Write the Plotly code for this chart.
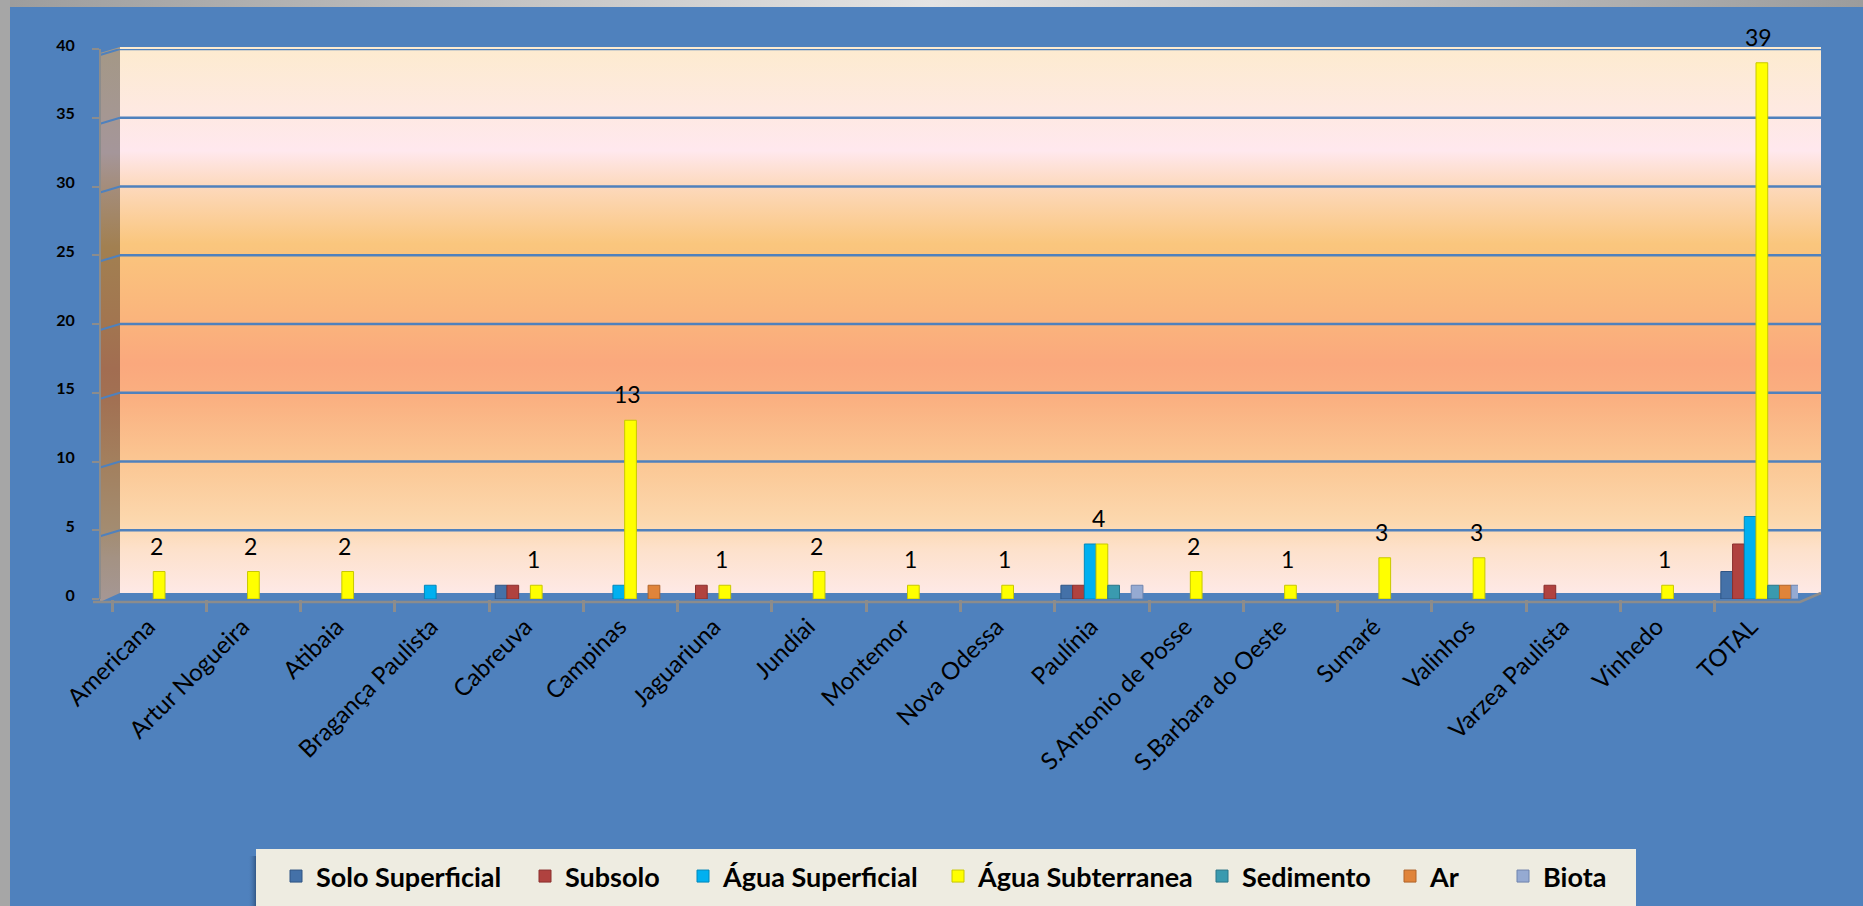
import base64
import plotly.graph_objects as go

# ---------------- data ----------------
categories = ["Americana", "Artur Nogueira", "Atibaia", "Bragança Paulista", "Cabreuva",
              "Campinas", "Jaguariuna", "Jundíai", "Montemor", "Nova Odessa", "Paulínia",
              "S.Antonio de Posse", "S.Barbara do Oeste", "Sumaré", "Valinhos",
              "Varzea Paulista", "Vinhedo", "TOTAL"]
solo_superficial = [0, 0, 0, 0, 1, 0, 0, 0, 0, 0, 1, 0, 0, 0, 0, 0, 0, 2]
subsolo          = [0, 0, 0, 0, 1, 0, 1, 0, 0, 0, 1, 0, 0, 0, 0, 1, 0, 4]
agua_superficial = [0, 0, 0, 1, 0, 1, 0, 0, 0, 0, 4, 0, 0, 0, 0, 0, 0, 6]
agua_subterranea = [2, 2, 2, 0, 1, 13, 1, 2, 1, 1, 4, 2, 1, 3, 3, 0, 1, 39]
sedimento        = [0, 0, 0, 0, 0, 0, 0, 0, 0, 0, 1, 0, 0, 0, 0, 0, 0, 1]
ar               = [0, 0, 0, 0, 0, 1, 0, 0, 0, 0, 0, 0, 0, 0, 0, 0, 0, 1]
biota            = [0, 0, 0, 0, 0, 0, 0, 0, 0, 0, 1, 0, 0, 0, 0, 0, 0, 1]
series_names = ["Solo Superficial", "Subsolo", "Água Superficial", "Água Subterranea",
                "Sedimento", "Ar", "Biota"]
y_ticks = [0, 5, 10, 15, 20, 25, 30, 35, 40]

# ---------------- style ----------------
series_values = [solo_superficial, subsolo, agua_superficial, agua_subterranea,
                 sedimento, ar, biota]
series_colors = ["#4471A8", "#B0423F", "#00B0F0", "#FFFF00", "#3A9AAF", "#E0843A", "#95AAD2"]
edge_colors = ["#2F5584", "#8A2F2D", "#0088BB", "#C8C800", "#2A7588", "#B0642A", "#6F84AE"]
legend_widths = [204, 113, 210, 219, 143, 68, 90]   # px text area per legend entry

FW, FH = 1863, 906
L, R, T, B = 101, 65, 49, 307
PW, PH = FW - L - R, FH - T - B
BG = "#4F81BD"
FONT = "Lato"


def px_x(p):
    return (p - L) / PW


wall_stops = [
    (0.00, (253, 235, 207)), (0.12, (254, 233, 226)), (0.19, (255, 232, 238)),
    (0.25, (253, 218, 192)), (0.36, (250, 198, 125)), (0.50, (250, 180, 124)),
    (0.58, (250, 168, 125)), (0.64, (250, 175, 128)), (0.75, (251, 197, 145)),
    (0.87, (252, 216, 174)), (0.92, (253, 225, 203)), (1.00, (254, 233, 230)),
]


def stops(factor):
    out = []
    for off, (r, g, b) in wall_stops:
        out.append('<stop offset="%.3f" stop-color="rgb(%d,%d,%d)"/>' % (
            off, int(r * factor), int(g * factor), int(b * factor)))
    return "".join(out)


svg = f'''<svg xmlns="http://www.w3.org/2000/svg" width="{FW}" height="{FH}" viewBox="0 0 {FW} {FH}" preserveAspectRatio="none">
<defs>
<linearGradient id="wall" x1="0" y1="0" x2="0" y2="1">{stops(1.0)}</linearGradient>
<linearGradient id="side" x1="0" y1="0" x2="0" y2="1">{stops(0.65)}</linearGradient>
<linearGradient id="topbar" x1="0" y1="0" x2="1" y2="0">
<stop offset="0" stop-color="#9C9C9C"/><stop offset="0.5" stop-color="#E4E4E4"/><stop offset="1" stop-color="#9C9C9C"/>
</linearGradient>
<linearGradient id="shadow" x1="0" y1="0" x2="1" y2="0">
<stop offset="0" stop-color="#4F81BD" stop-opacity="0"/><stop offset="1" stop-color="#2B4D78" stop-opacity="0.8"/>
</linearGradient>
</defs>
<rect x="0" y="0" width="{FW}" height="7" fill="url(#topbar)"/>
<rect x="0" y="0" width="10" height="{FH}" fill="#A6A6A6"/>
<rect x="120" y="47" width="1701" height="546" fill="url(#wall)"/>
<polygon points="100,53 120,47 120,593 100,602" fill="url(#side)"/>
<polyline points="93,602 1800,602 1821,593" stroke="#8C8C8C" stroke-width="2.5" fill="none"/>
<rect x="248" y="856" width="8" height="50" fill="url(#shadow)"/>
<rect x="256" y="849" width="1380" height="57" fill="#EEECE1"/>
</svg>'''
svg_uri = "data:image/svg+xml;base64," + base64.b64encode(svg.encode("utf-8")).decode("ascii")

fig = go.Figure()
for name, vals, col, edge, lw in zip(series_names, series_values, series_colors,
                                     edge_colors, legend_widths):
    fig.add_trace(go.Bar(
        x=categories, y=[v if v else None for v in vals], name=name,
        marker=dict(color=col, line=dict(color=edge, width=1)),
        legendwidth=lw,
        hovertemplate="%{x}<br>" + name + ": %{y}<extra></extra>",
    ))

# data labels on Água Subterranea
for cat, v in zip(categories, agua_subterranea):
    if v:
        fig.add_annotation(x=cat, y=v, text=str(v), showarrow=False,
                           yanchor="middle", yshift=26, xshift=-3,
                           font=dict(family=FONT, size=23, color="black"))

# gridlines on back wall
shapes = []
for v in y_ticks[1:]:
    shapes.append(dict(type="line", xref="paper", yref="y", x0=px_x(120), x1=px_x(1821),
                       y0=v, y1=v, line=dict(color="#4F81BD", width=2.5), layer="below"))
    shapes.append(dict(type="line", xref="paper", yref="y", x0=px_x(100), x1=px_x(120),
                       y0=v - 6 / 13.75, y1=v, line=dict(color="#4F81BD", width=2), layer="below"))

shift = 11 / (PW / len(categories))
fig.update_layout(
    width=FW, height=FH,
    margin=dict(l=L, r=R, t=T, b=B, pad=0),
    paper_bgcolor=BG, plot_bgcolor="rgba(0,0,0,0)",
    barmode="group", bargap=0.13, bargroupgap=0.0,
    font=dict(family=FONT, color="black"),
    showlegend=True,
    legend=dict(orientation="h", xref="container", yref="container",
                x=276 / FW, y=1 - 852 / FH, xanchor="left", yanchor="top",
                bgcolor="rgba(0,0,0,0)", borderwidth=0,
                font=dict(family=FONT, size=27, color="black", weight="bold"),
                itemclick=False, itemdoubleclick=False),
    images=[dict(source=svg_uri, xref="paper", yref="paper",
                 x=-L / PW, y=1 + T / PH, sizex=FW / PW, sizey=FH / PH,
                 xanchor="left", yanchor="top", sizing="stretch", layer="below")],
    shapes=shapes,
    xaxis=dict(type="category", categoryorder="array", categoryarray=categories,
               range=[-0.5 - shift, len(categories) - 0.5 - shift],
               tickangle=-45, tickson="boundaries", ticks="outside", ticklen=12,
               tickcolor="#8C8C8C", tickwidth=2.5, showline=False, showgrid=False,
               zeroline=False, ticklabelstandoff=8, ticklabelshift=-11,
               tickfont=dict(family=FONT, size=24, color="black")),
    yaxis=dict(range=[0, 40], tickvals=y_ticks, ticks="outside", ticklen=7,
               tickcolor="#8C8C8C", tickwidth=2, showline=True, linecolor="#8C8C8C",
               linewidth=2, showgrid=False, zeroline=False, ticklabelstandoff=14,
               ticklabelshift=-4,
               tickfont=dict(family=FONT, size=16, color="black", weight="bold")),
)

fig.write_html("out.html", config={"displayModeBar": False},
               post_script="document.body.style.margin='0px';document.body.style.overflow='hidden';")
